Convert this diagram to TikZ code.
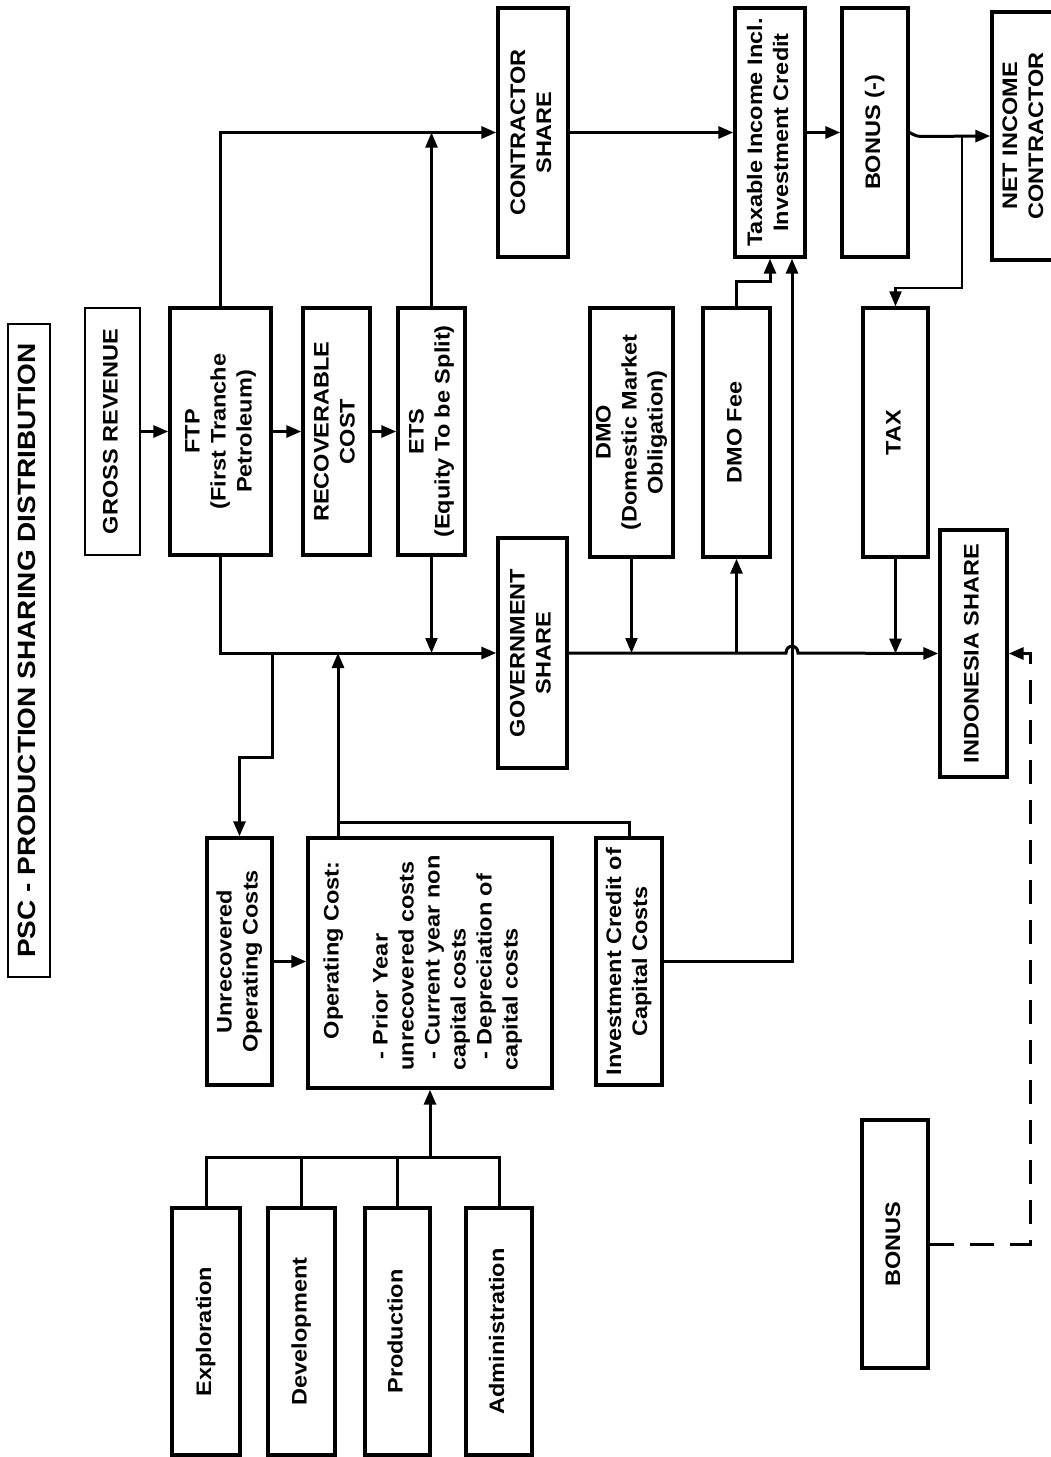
\documentclass[tikz,border=0pt]{standalone}
\usepackage{fontspec}
\setmainfont{Liberation Sans}
\usepackage{graphicx}
\usetikzlibrary{calc,arrows.meta}

\newcommand{\vtxt}[1]{\rotatebox{90}{\scalebox{1.12}[1]{\begin{tabular}{@{}c@{}}#1\end{tabular}}}}

\begin{document}
\begin{tikzpicture}[x=1pt,y=-1pt,
  box/.style={draw, line width=3.4pt, inner sep=0pt, font=\fontsize{21}{26}\selectfont\bfseries},
  thinbox/.style={box, line width=2pt},
  line/.style={line width=3pt},
  thinline/.style={line width=2.2pt},
  arr/.style={-{Triangle[length=15pt,width=12pt]}},
  bonusdash/.style={line width=3pt, dash pattern=on 24pt off 16pt}]

\useasboundingbox (0,0) rectangle (1050,1457);

% Drawing title and revenue
\node[thinbox, minimum width=42, minimum height=653, font=\fontsize{25}{30}\selectfont\bfseries] (title) at (29,650.5) {\vtxt{PSC - PRODUCTION SHARING DISTRIBUTION}};
\node[thinbox, minimum width=55, minimum height=247] (gross) at (112.5,431.5) {\vtxt{GROSS REVENUE}};

% Drawing the split boxes
\node[box, minimum width=101, minimum height=247] (ftp) at (220.5,431.5) {\vtxt{FTP\\(First Tranche\\Petroleum)}};
\node[box, minimum width=67, minimum height=247] (rec) at (336.5,431.5) {\vtxt{RECOVERABLE\\COST}};
\node[box, minimum width=67, minimum height=247] (ets) at (431.5,431.5) {\vtxt{ETS\\(Equity To be Split)}};
\node[box, minimum width=83, minimum height=249] (dmo) at (631.5,432.5) {\vtxt{DMO\\(Domestic Market\\Obligation)}};
\node[box, minimum width=67, minimum height=249] (dmofee) at (736.5,432.5) {\vtxt{DMO Fee}};
\node[box, minimum width=65, minimum height=249] (tax) at (895.5,432.5) {\vtxt{TAX}};

% Drawing contractor side
\node[box, minimum width=70, minimum height=249] (contr) at (533,132.5) {\vtxt{CONTRACTOR\\SHARE}};
\node[box, minimum width=70, minimum height=249] (taxinc) at (770,132.5) {\vtxt{Taxable Income Incl.\\Investment Credit}};
\node[box, minimum width=66, minimum height=249] (bonusm) at (875,132.5) {\vtxt{BONUS (-)}};
\node[box, minimum width=66, minimum height=248] (netinc) at (1025,136) {\vtxt{NET INCOME\\CONTRACTOR}};

% Drawing government side
\node[box, minimum width=69, minimum height=230] (gov) at (532.5,653) {\vtxt{GOVERNMENT\\SHARE}};
\node[box, minimum width=67, minimum height=247] (indo) at (973.5,653.5) {\vtxt{INDONESIA SHARE}};
\node[box, minimum width=66, minimum height=248] (bonus) at (895,1244) {\vtxt{BONUS}};

% Drawing cost boxes
\node[box, minimum width=65, minimum height=247] (unrec) at (239.5,961.5) {\vtxt{Unrecovered\\Operating Costs}};
\node[box, minimum width=244, minimum height=250] (opcost) at (430,963) {\rotatebox{90}{\scalebox{1.12}[1]{\begin{tabular}{@{}l@{}}\hspace{28pt}Operating Cost:\\[23pt]\hspace{10pt}- Prior Year\\unrecovered costs\\\hspace{10pt}- Current year non\\capital costs\\\hspace{10pt}- Depreciation of\\capital costs\\[14pt]\end{tabular}}}};
\node[box, minimum width=66, minimum height=247] (invc) at (629,961.5) {\vtxt{Investment Credit of\\Capital Costs}};

\node[box, minimum width=68, minimum height=247] (expl) at (206,1331.5) {\vtxt{Exploration}};
\node[box, minimum width=67, minimum height=247] (dev) at (301.5,1331.5) {\vtxt{Development}};
\node[box, minimum width=65, minimum height=247] (prod) at (397.5,1331.5) {\vtxt{Production}};
\node[box, minimum width=66, minimum height=247] (adm) at (499,1331.5) {\vtxt{Administration}};

% Free ends of connectors
\coordinate (icx) at (792,653);
\coordinate (taxsplit) at (962,136);
\coordinate (taxbend) at (962,288);
\coordinate (ubend) at (272,757);
\coordinate (opup) at (338,838);
\coordinate (opmid) at (338,822);
\coordinate (bus) at (0,1157);
\coordinate (bonusc) at (1030,1244);

% Connecting the split
\draw[line,arr] (gross.east) -- (ftp.west);
\draw[line,arr] (ftp.east) -- (rec.west);
\draw[line,arr] (rec.east) -- (ets.west);
\draw[line,arr] (ftp.north) |- (contr.west);
\draw[thinline,arr] (ets.north) -- (ets.north |- contr.west);
\draw[line,arr] (ftp.south) |- (gov.west);
\draw[thinline,arr] (ets.south) -- (ets.south |- gov.west);

% Connecting contractor side
\draw[line,arr] (contr.east) -- (taxinc.west);
\draw[line,arr] (taxinc.east) -- (bonusm.west);
\draw[line,arr,rounded corners=4pt] (bonusm.east) -- +(7,4) -- (netinc.west);
\draw[thinline,arr] (taxsplit) -- (taxbend) -| (tax.north);
\draw[line,arr] (dmofee.north) -- ++(0,-25) -| (taxinc.south);
\draw[line,arr] (invc.east) -| ([xshift=22pt]taxinc.south);

% Connecting government side
\draw[line,arr] (gov.east) -- ([xshift=-6pt]icx) .. controls +(0,-9) and +(0,-9) .. ([xshift=6pt]icx) -- (indo.west);
\draw[thinline,arr] (dmo.south) -- (dmo.south |- gov.east);
\draw[line,arr] (dmofee.south |- gov.east) -- (dmofee.south);
\draw[line,arr] (tax.south) -- (tax.south |- indo.west);
\draw[bonusdash,arr] (bonus.east) -- (bonusc) |- (indo.east);

% Connecting costs
\draw[line,arr] (ubend |- gov.west) -- (ubend) -| (unrec.north);
\draw[line,arr] (opup) -- (opup |- gov.west);
\draw[line] (opmid) -| (invc.north);
\draw[line,arr] (unrec.east) -- (unrec.east -| opcost.west);
\draw[line] (expl.north) |- (bus -| adm.north) -- (adm.north);
\draw[line] (dev.north) -- (dev.north |- bus);
\draw[line] (prod.north) -- (prod.north |- bus);
\draw[line,arr] (opcost.south |- bus) -- (opcost.south);

\end{tikzpicture}
\end{document}
